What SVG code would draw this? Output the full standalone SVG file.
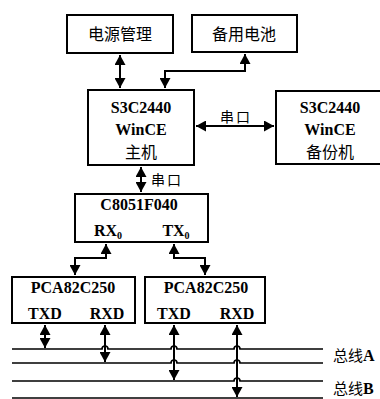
<svg xmlns="http://www.w3.org/2000/svg" width="380" height="399" viewBox="0 0 380 399">
<style>
.box{fill:#fff;stroke:#000;stroke-width:2}
.ln{fill:none;stroke:#000;stroke-width:2}
.bus{fill:none;stroke:#000;stroke-width:1.7}
.lat{font-family:"Liberation Serif",serif;font-weight:bold;font-size:16px;fill:#000;text-anchor:middle}
.cjk{font-family:"Noto Sans CJK SC",sans-serif;font-size:16px;fill:#000;text-anchor:middle}
.lbl{font-family:"Noto Sans CJK SC",sans-serif;font-size:14px;fill:#000;letter-spacing:2px}
</style>
<defs>
<marker id="ah" markerUnits="userSpaceOnUse" markerWidth="10" markerHeight="11" refX="10" refY="5.5" orient="auto-start-reverse" viewBox="0 0 10 11">
<path d="M0,0 L10,5.5 L0,11 z" fill="#000"/>
</marker>
</defs>
<g id="power"><rect class="box" x="67" y="15" width="106" height="38"/><text class="cjk" x="120" y="40">电源管理</text></g>
<g id="battery"><rect class="box" x="192" y="15" width="105" height="37"/><text class="cjk" x="244" y="40">备用电池</text></g>
<g id="host"><rect class="box" x="88" y="90" width="106" height="75"/>
<text class="lat" x="141" y="113">S3C2440</text><text class="lat" x="141" y="135">WinCE</text><text class="cjk" x="141" y="158">主机</text></g>
<g id="backup"><rect class="box" x="276" y="91" width="106" height="73"/>
<text class="lat" x="330" y="113">S3C2440</text><text class="lat" x="330" y="135">WinCE</text><text class="cjk" x="330" y="158">备份机</text></g>
<g id="mcu"><rect class="box" x="75" y="194" width="133" height="48"/>
<text class="lat" x="139" y="210">C8051F040</text>
<text class="lat" x="108" y="236">RX<tspan font-size="10" dy="3">0</tspan></text>
<text class="lat" x="176" y="236">TX<tspan font-size="10" dy="3">0</tspan></text></g>
<g id="can1"><rect class="box" x="12" y="277" width="123" height="46"/>
<text class="lat" x="73" y="293">PCA82C250</text><text class="lat" x="45" y="319">TXD</text><text class="lat" x="107" y="319">RXD</text></g>
<g id="can2"><rect class="box" x="145" y="277" width="120" height="46"/>
<text class="lat" x="206" y="293">PCA82C250</text><text class="lat" x="174" y="319">TXD</text><text class="lat" x="237" y="319">RXD</text></g>
<g id="buses">
<path class="bus" d="M12,349 H102 a3,3 0 0 1 6,0 H171 a3,3 0 0 1 6,0 H234 a3,3 0 0 1 6,0 H323"/>
<path class="bus" d="M12,363 H171 a3,3 0 0 1 6,0 H234 a3,3 0 0 1 6,0 H323"/>
<path class="bus" d="M12,381 H234 a3,3 0 0 1 6,0 H323"/>
<path class="bus" d="M12,398 H323"/>
<text x="333" y="361" font-family="Noto Sans CJK SC,sans-serif" font-size="15">总线<tspan font-family="Liberation Serif,serif" font-weight="bold" font-size="16">A</tspan></text>
<text x="333" y="394" font-family="Noto Sans CJK SC,sans-serif" font-size="15">总线<tspan font-family="Liberation Serif,serif" font-weight="bold" font-size="16">B</tspan></text>
</g>
<g id="connectors">
<path class="ln" d="M120,55 V88" marker-start="url(#ah)" marker-end="url(#ah)"/>
<path class="ln" d="M245,54 V71 H165 V88" marker-start="url(#ah)" marker-end="url(#ah)"/>
<path class="ln" d="M196,126 H274" marker-start="url(#ah)" marker-end="url(#ah)"/>
<path class="ln" d="M141,167 V192" marker-start="url(#ah)" marker-end="url(#ah)"/>
<path class="ln" d="M106,244 V258 H75 V275" marker-start="url(#ah)" marker-end="url(#ah)"/>
<path class="ln" d="M174,244 V258 H205 V275" marker-start="url(#ah)" marker-end="url(#ah)"/>
<path class="ln" d="M45,325 V348" marker-start="url(#ah)" marker-end="url(#ah)"/>
<path class="ln" d="M105,325 V362" marker-start="url(#ah)" marker-end="url(#ah)"/>
<path class="ln" d="M174,325 V380" marker-start="url(#ah)" marker-end="url(#ah)"/>
<path class="ln" d="M237,325 V397" marker-start="url(#ah)" marker-end="url(#ah)"/>
<text class="lbl" x="220" y="122">串口</text>
<text class="lbl" x="151" y="185">串口</text>
</g>
</svg>
